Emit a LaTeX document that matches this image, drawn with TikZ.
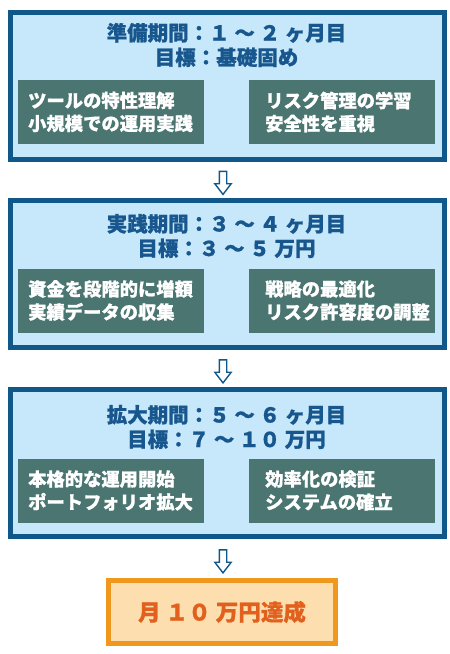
\documentclass[tikz,border=0pt]{standalone}
\usepackage{fontspec}
\setmainfont{Noto Sans CJK JP}[BoldFeatures={FakeBold=0.8}]
\usetikzlibrary{positioning,shapes.arrows}
\definecolor{stageblue}{RGB}{16,88,138}
\definecolor{stagefill}{RGB}{198,232,250}
\definecolor{headblue}{RGB}{24,86,142}
\definecolor{panelgreen}{RGB}{74,117,112}
\definecolor{goalline}{RGB}{240,152,30}
\definecolor{goalfill}{RGB}{253,222,175}
\definecolor{goaltext}{RGB}{226,96,30}

\begin{document}
\begin{tikzpicture}[x=1pt,y=-1pt]
    %
    % `stage' is the light blue box of each period, `head' its title.
    % `panel' is a dark box inside a stage, `item' the text on it.
    % `down' is the hollow arrow between two stages.
    \tikzstyle{stage} = [draw=stageblue,line width=5pt,fill=stagefill,minimum width=434pt,minimum height=147pt,inner sep=0pt]
    \tikzstyle{head} = [text=headblue,font=\fontsize{20.5}{24.5}\selectfont\bfseries,align=center,inner sep=0pt]
    \tikzstyle{panel} = [fill=panelgreen,minimum width=186pt,minimum height=64pt,inner sep=0pt]
    \tikzstyle{item} = [text=white,font=\fontsize{18.3}{23}\selectfont\bfseries,align=left,inner sep=0pt,anchor=west]
    \tikzstyle{down} = [shape=single arrow,rotate=-90,draw=stageblue,fill=white,line width=1.4pt,minimum width=15pt,minimum height=23pt,single arrow head extend=4.5pt,single arrow tip angle=75,inner sep=3pt]
    \tikzstyle{goal} = [draw=goalline,line width=5pt,fill=goalfill,text=goaltext,font=\fontsize{22.5}{26}\selectfont\bfseries,minimum width=227pt,minimum height=63pt,inner sep=0pt]
    %
    \useasboundingbox (0,0) rectangle (450,654);
    %
    % Stage 1
    \node[stage] (stage1) at (227.5,85.5) {};
    \node[head] (head1) at (226.5,45) {準備期間：１ ～ ２ ヶ月目\\目標：基礎固め};
    \node[panel] (pan11) at (111,112) {};
    \node[panel] (pan12) at (341.5,112) {};
    \node[item] (txt11) at (28,112) {ツールの特性理解\\小規模での運用実践};
    \node[item] (txt12) at (265,112) {リスク管理の学習\\安全性を重視};
    %
    \node[down] (arr1) at (223,180.5) {};
    %
    % Stage 2
    \node[stage] (stage2) at (227.5,274) {};
    \node[head] (head2) at (226.5,236) {実践期間：３ ～ ４ ヶ月目\\目標：３ ～ ５ 万円};
    \node[panel] (pan21) at (111,300.5) {};
    \node[panel] (pan22) at (341.5,300.5) {};
    \node[item] (txt21) at (28,300.5) {資金を段階的に増額\\実績データの収集};
    \node[item] (txt22) at (265,300.5) {戦略の最適化\\リスク許容度の調整};
    %
    \node[down] (arr2) at (223,369) {};
    %
    % Stage 3
    \node[stage] (stage3) at (227.5,463) {};
    \node[head] (head3) at (226.5,427) {拡大期間：５ ～ ６ ヶ月目\\目標：７ ～ １０ 万円};
    \node[panel] (pan31) at (111,490.5) {};
    \node[panel] (pan32) at (341.5,490.5) {};
    \node[item] (txt31) at (28,490.5) {本格的な運用開始\\ポートフォリオ拡大};
    \node[item] (txt32) at (265,490.5) {効率化の検証\\システムの確立};
    %
    \node[down] (arr3) at (223,559) {};
    %
    % Goal
    \node[goal] (goal) at (222,612) {月 １０ 万円達成};
    %
\end{tikzpicture}
\end{document}
